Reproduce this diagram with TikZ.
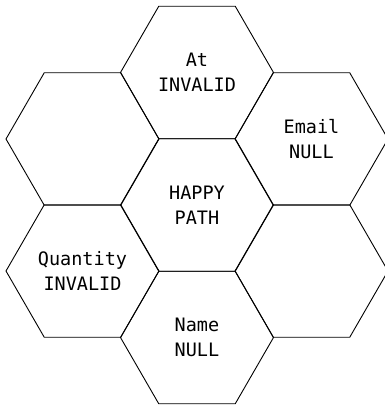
\documentclass[tikz,border=0pt]{standalone}
\usepackage{fontspec}
\setmonofont{DejaVu Sans Mono}
\usetikzlibrary{shapes.geometric}

\tikzset{
  hexcell/.style={regular polygon, regular polygon sides=6, minimum size=153pt,
    inner sep=0pt, draw=black, line width=0.9pt, align=center,
    font=\ttfamily\fontsize{18.5}{25}\selectfont}
}

\begin{document}
\begin{tikzpicture}[x=1pt,y=-1pt]
  \useasboundingbox (0,0) rectangle (384,405);
  % middle cell and its ring
  \node[hexcell] (happy)    at (197,205)   {HAPPY\\PATH};
  \node[hexcell] (at)       at (197,72.5)  {At\\INVALID};
  \node[hexcell] (email)    at (311.5,139) {Email\\NULL};
  \node[hexcell] (blankur)  at (82.5,139)  {};
  \node[hexcell] (quantity) at (82.5,271)  {Quantity\\INVALID};
  \node[hexcell] (blanklr)  at (311.5,271) {};
  \node[hexcell] (name)     at (197,337.5) {Name\\NULL};
\end{tikzpicture}
\end{document}
